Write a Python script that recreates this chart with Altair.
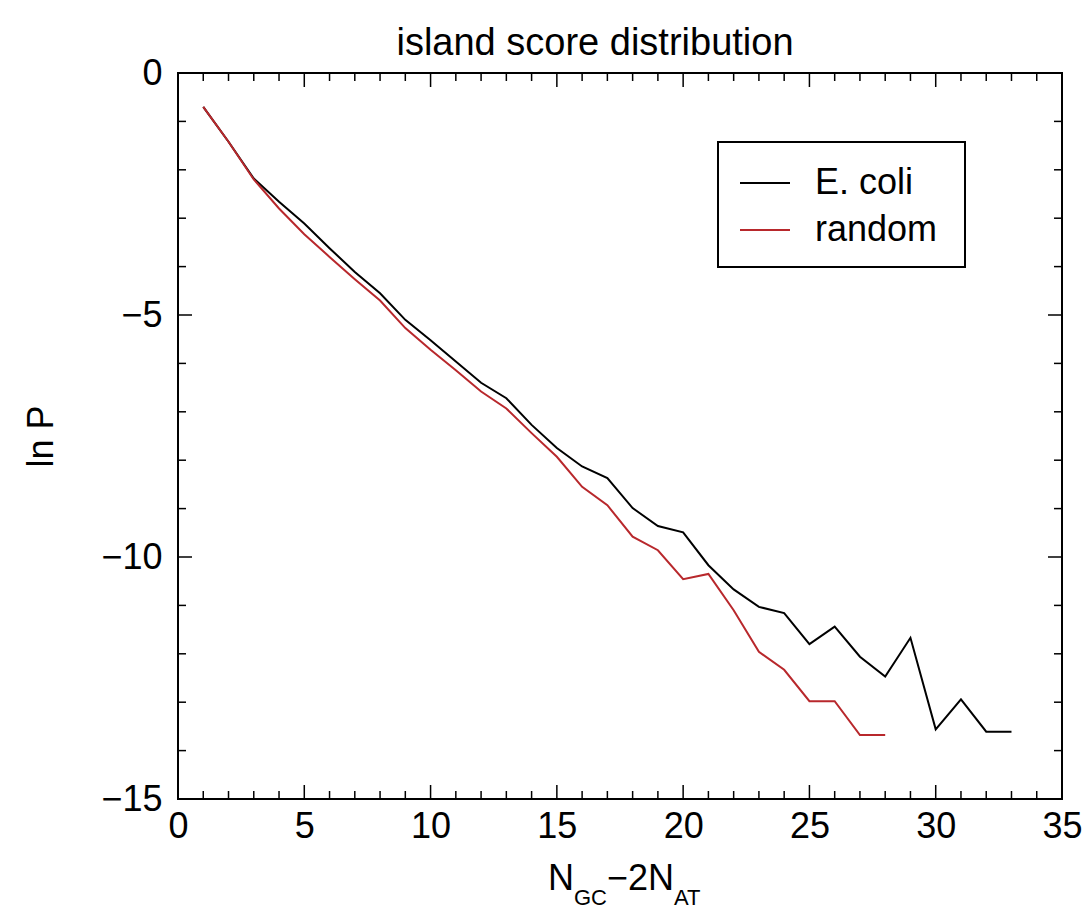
import altair as alt
import pandas as pd

# ---- data ----
series_names = ["E. coli", "random"]
series_colors = ["#000000", "#b8282c"]

x_ecoli = list(range(1, 34))
lnp_ecoli = [-0.70, -1.42, -2.18, -2.66, -3.11, -3.62, -4.11, -4.55, -5.10, -5.52,
             -5.96, -6.40, -6.72, -7.27, -7.75, -8.13, -8.37, -8.99, -9.36, -9.49,
             -10.17, -10.67, -11.03, -11.16, -11.80, -11.44, -12.06, -12.47, -11.67, -13.56,
             -12.94, -13.61, -13.61]

x_random = list(range(1, 29))
lnp_random = [-0.70, -1.42, -2.20, -2.80, -3.33, -3.80, -4.26, -4.70, -5.27, -5.72,
              -6.14, -6.58, -6.93, -7.44, -7.93, -8.55, -8.93, -9.58, -9.86, -10.46,
              -10.35, -11.10, -11.96, -12.33, -12.98, -12.98, -13.68, -13.68]

x_major_ticks = [0, 5, 10, 15, 20, 25, 30, 35]
x_minor_ticks = [v for v in range(0, 36) if v % 5 != 0]
y_major_ticks = [0, -5, -10, -15]
y_minor_ticks = [v for v in range(-15, 1) if v % 5 != 0]

title_text = "island score distribution"
y_title = "ln P"

# ---- layout ----
W, H = 884, 726
FONT = "Liberation Sans"
MAJ, MIN = 14, 8

df = pd.concat([
    pd.DataFrame({"x": x_ecoli, "lnP": lnp_ecoli, "series": series_names[0]}),
    pd.DataFrame({"x": x_random, "lnP": lnp_random, "series": series_names[1]}),
])

xs = alt.Scale(domain=[0, 35], nice=False, zero=False)
ys = alt.Scale(domain=[-15, 0], nice=False, zero=False)

lines = alt.Chart(df).mark_line(strokeWidth=2).encode(
    x=alt.X("x:Q", scale=xs,
            axis=alt.Axis(values=x_major_ticks, ticks=False, domain=False, grid=False,
                          labelFontSize=36, labelFont=FONT, labelColor="black",
                          labelPadding=10, title=None, labelFlush=False)),
    y=alt.Y("lnP:Q", scale=ys,
            axis=alt.Axis(values=y_major_ticks, ticks=False, domain=False, grid=False,
                          labelFontSize=36, labelFont=FONT, labelColor="black",
                          labelPadding=16, title=y_title, titleFontSize=36,
                          titleFont=FONT, titleFontWeight="normal", titleColor="black",
                          titlePadding=40, labelFlush=False)),
    color=alt.Color("series:N", scale=alt.Scale(domain=series_names, range=series_colors),
                    legend=None),
)

def xticks(vals, length):
    d = pd.DataFrame({"x": vals})
    bottom = alt.Chart(d).mark_rule(color="black", strokeWidth=1.5).encode(
        x=alt.X("x:Q", scale=xs), y=alt.value(H), y2=alt.value(H - length))
    top = alt.Chart(d).mark_rule(color="black", strokeWidth=1.5).encode(
        x=alt.X("x:Q", scale=xs), y=alt.value(0), y2=alt.value(length))
    return [bottom, top]

def yticks(vals, length):
    d = pd.DataFrame({"lnP": vals})
    left = alt.Chart(d).mark_rule(color="black", strokeWidth=1.5).encode(
        y=alt.Y("lnP:Q", scale=ys), x=alt.value(0), x2=alt.value(length))
    right = alt.Chart(d).mark_rule(color="black", strokeWidth=1.5).encode(
        y=alt.Y("lnP:Q", scale=ys), x=alt.value(W), x2=alt.value(W - length))
    return [left, right]

tick_layers = (xticks(x_major_ticks[1:-1], MAJ) + xticks(x_minor_ticks, MIN)
               + yticks(y_major_ticks[1:-1], MAJ) + yticks(y_minor_ticks, MIN))

# title
title = alt.Chart(pd.DataFrame({"t": [title_text]})).mark_text(
    fontSize=38, font=FONT, align="center", baseline="alphabetic", color="black"
).encode(text="t:N", x=alt.value(417), y=alt.value(-18))

# x axis title with subscripts
xt_parts = [("N", 36, 370, 817), ("GC", 22, 396, 832), ("\u22122N", 36, 429, 817), ("AT", 22, 496, 832)]
xt_layers = []
for txt, fs, px, py in xt_parts:
    xt_layers.append(alt.Chart(pd.DataFrame({"t": [txt]})).mark_text(
        fontSize=fs, font=FONT, align="left", baseline="alphabetic", color="black"
    ).encode(text="t:N", x=alt.value(px), y=alt.value(py)))

# legend
lx0, ly0, lx1, ly1 = 540, 69, 787, 194
legend_box = alt.Chart(pd.DataFrame({"a": [0]})).mark_rect(
    fill="white", stroke="black", strokeWidth=2
).encode(x=alt.value(lx0), x2=alt.value(lx1), y=alt.value(ly0), y2=alt.value(ly1))
legend_layers = [legend_box]
for i, (name, col) in enumerate(zip(series_names, series_colors)):
    yy = 110 + 47 * i
    legend_layers.append(alt.Chart(pd.DataFrame({"a": [0]})).mark_rule(
        color=col, strokeWidth=2
    ).encode(x=alt.value(562), x2=alt.value(612), y=alt.value(yy)))
    legend_layers.append(alt.Chart(pd.DataFrame({"t": [name]})).mark_text(
        fontSize=36, font=FONT, align="left", baseline="middle", color="black"
    ).encode(text="t:N", x=alt.value(637), y=alt.value(yy)))

chart = alt.layer(lines, *tick_layers, *legend_layers, title, *xt_layers).properties(
    width=W, height=H,
    autosize=alt.AutoSizeParams(type="none"),
    padding={"left": 178, "top": 73, "right": 28, "bottom": 117},
    background="white",
).configure_view(stroke="black", strokeWidth=2)

chart.save("out.html", embed_options={"renderer": "svg", "actions": False})
